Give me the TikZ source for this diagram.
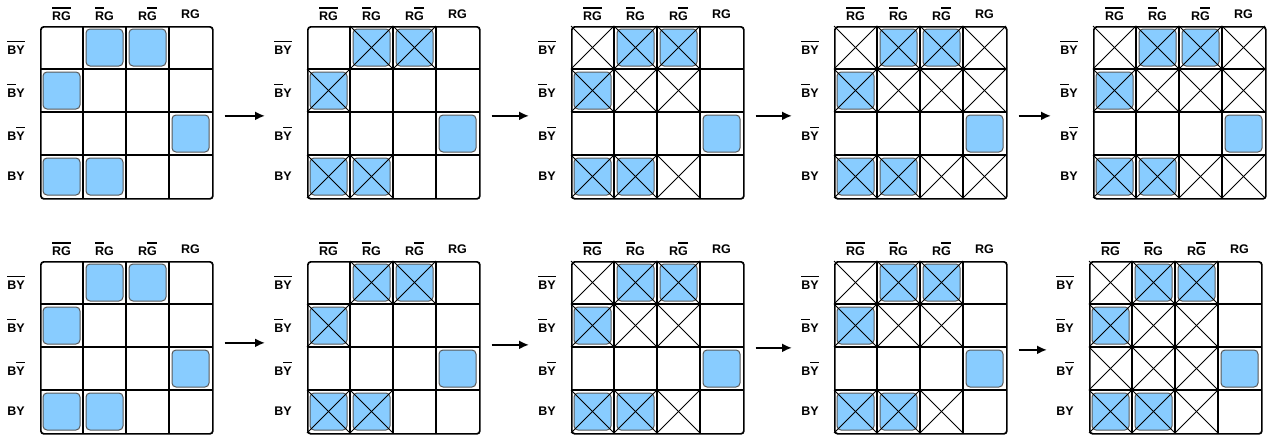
\documentclass[tikz,border=0pt]{standalone}
\usepackage{fontspec}
\setmainfont{Liberation Sans}
\usepackage{tikz}
\usepackage{xcolor}
\usetikzlibrary{arrows.meta,positioning}
\definecolor{cellblue}{HTML}{88CCFF}
\newcommand{\ovl}[1]{{\setbox0\hbox{#1}\rlap{\rule[12pt]{\wd0}{1.2pt}}\box0}}
\tikzset{
    grid-box/.style = {draw=black, fill=white, line width=1.7pt, rectangle, rounded corners=3pt, minimum width=172pt, minimum height=172pt, inner sep=0pt, anchor=north west},
    grid-line/.style = {black, line width=1.4pt},
    on-cell/.style = {fill=cellblue, draw=black!65, line width=1pt, rounded corners=4pt},
    off-cross/.style = {black, line width=0.8pt},
    head-label/.style = {font=\fontsize{12.5}{14}\selectfont\bfseries, inner sep=0pt},
    step-arrow/.style = {-{Latex[length=10pt,width=9pt]}, line width=2.4pt, shorten <=11pt, shorten >=42pt},
}

\begin{document}
\begin{tikzpicture}[x=1pt, y=-1pt]
\useasboundingbox (0,0) rectangle (1276,439);
% the ten maps, with the cells crossed out in each
\foreach \name/\gx/\gy/\crossed in {
    g1/40/26/{0/0},
    g2/307/26/{2/1,3/1,1/2,1/4,2/4},
    g3/571/26/{2/1,3/1,1/2,1/4,2/4,1/1,2/2,3/2,3/4},
    g4/834/26/{2/1,3/1,1/2,1/4,2/4,1/1,2/2,3/2,3/4,4/1,4/2,4/4},
    g5/1093/26/{2/1,3/1,1/2,1/4,2/4,1/1,2/2,3/2,3/4,4/1,4/2,4/4},
    g6/40/261/{0/0},
    g7/307/261/{2/1,3/1,1/2,1/4,2/4},
    g8/571/261/{2/1,3/1,1/2,1/4,2/4,1/1,2/2,3/2,3/4},
    g9/834/261/{2/1,3/1,1/2,1/4,2/4,1/1,2/2,3/2,3/4},
    g10/1089/261/{2/1,3/1,1/2,1/4,2/4,1/1,2/2,3/2,3/4,1/3,2/3,3/3}}{
  \node[grid-box] (\name) at (\gx,\gy) {};
  \foreach \c/\r in {2/1,3/1,1/2,4/3,1/4,2/4}
    \draw[on-cell] (\gx+\c*43-40,\gy+\r*43-40) rectangle ++(37,37);
  \foreach \c/\r in \crossed {
    \ifnum\c>0
      \draw[off-cross] (\gx+\c*43-43,\gy+\r*43-43) -- ++(43,43);
      \draw[off-cross] (\gx+\c*43,\gy+\r*43-43) -- ++(-43,43);
    \fi
  }
  \foreach \i in {1,2,3} {
    \draw[grid-line] (\gx+\i*43,\gy) -- ++(0,172);
    \draw[grid-line] (\gx,\gy+\i*43) -- ++(172,0);
  }
  \foreach \t [count=\i] in {\ovl{RG},\ovl{R}G,R\ovl{G},RG}
    \node[head-label] (\name-c\i) at (\gx+\i*43-21.5,\gy-12) {\t};
  \foreach \t [count=\i] in {\ovl{BY},\ovl{B}Y,B\ovl{Y},BY}
    \node[head-label] (\name-r\i) at (\gx-24,\gy+\i*43-21.5) {\t};
}
% steps
\draw[step-arrow] ([yshift=-3pt]g1.east) -- ([yshift=-3pt]g2.west);
\draw[step-arrow] ([yshift=-3pt]g2.east) -- ([yshift=-3pt]g3.west);
\draw[step-arrow] ([yshift=-3pt]g3.east) -- ([yshift=-3pt]g4.west);
\draw[step-arrow] ([yshift=-3pt]g4.east) -- ([yshift=-3pt]g5.west);
\draw[step-arrow] ([yshift=5pt]g6.east) -- ([yshift=5pt]g7.west);
\draw[step-arrow] ([yshift=3pt]g7.east) -- ([yshift=3pt]g8.west);
\draw[step-arrow] (g8.east) -- (g9.west);
\draw[step-arrow] ([yshift=-2pt]g9.east) -- ([yshift=-2pt]g10.west);
\end{tikzpicture}
\end{document}
